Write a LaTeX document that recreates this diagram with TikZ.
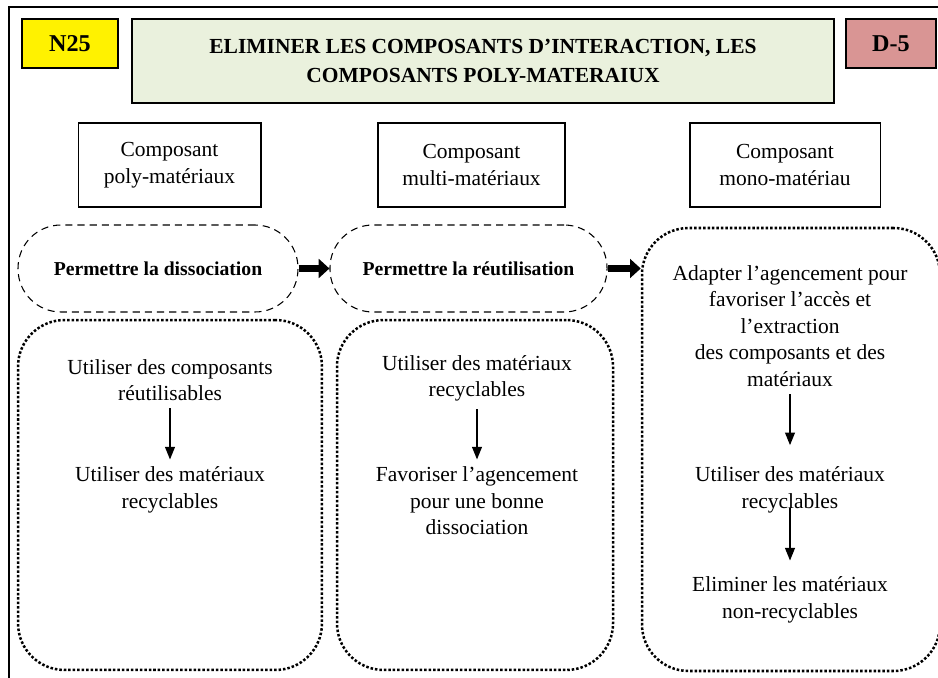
\documentclass[tikz,border=0pt]{standalone}
\usepackage{fontspec}
\setmainfont{Liberation Serif}
\usetikzlibrary{arrows.meta}
\definecolor{titlegreen}{HTML}{EAF1DD}
\definecolor{tagred}{HTML}{D99594}
\begin{document}
\begin{tikzpicture}[
    x=0.5587pt, y=-0.5587pt,
    txt/.style={align=center, inner sep=4pt, font=\fontsize{12}{14.8}\selectfont},
    tag/.style={draw, line width=0.8pt, minimum width=53.6pt, minimum height=27.4pt, font=\fontsize{13.5}{16}\selectfont\bfseries},
    comp/.style={draw, line width=0.6pt, minimum height=46.9pt, align=center, font=\fontsize{12}{14.8}\selectfont},
    pill/.style={draw, dash pattern=on 4pt off 2.8pt, line width=0.6pt, rounded corners=24pt, minimum height=48.6pt, font=\fontsize{11}{13}\selectfont\bfseries},
    zone/.style={draw, line width=1.4pt, dash pattern=on 1.4pt off 1.1pt, rounded corners=26pt},
    bigarrow/.style={-{Triangle[length=6pt,width=10.5pt]}, line width=4pt},
    arrow/.style={-{Triangle[length=7pt,width=5.5pt]}, line width=0.75pt}
]
    \useasboundingbox (0,0) rectangle (938,678);
    \clip (0,0) rectangle (938,678);
    % cadre
    \draw[line width=0.8pt] (9,7) rectangle (980,720);

    % en-tete
    \node[tag, fill=yellow] (n25) at (70,43.5) {N25};
    \node[draw, line width=0.8pt, fill=titlegreen, minimum width=392.2pt, minimum height=46.9pt, align=center, font=\fontsize{12}{16}\selectfont\bfseries] (titre) at (483,61) {ELIMINER LES COMPOSANTS D’INTERACTION, LES\\COMPOSANTS POLY-MATERAIUX};
    \node[tag, fill=tagred, minimum width=50.3pt] (d5) at (891,43.5) {D-5};

    \node[comp, minimum width=102.2pt] (poly) at (169.5,165) {Composant\\poly-matériaux};
    \node[comp, minimum width=104.5pt] (multi) at (471.5,165) {Composant\\multi-matériaux};
    \node[comp, minimum width=106.2pt] (mono) at (785,165) {Composant\\mono-matériau};

    \node[pill, minimum width=156.4pt] (dissoc) at (158,268.5) {Permettre la dissociation};
    \node[pill, minimum width=154.8pt] (reutil) at (468.5,268.5) {Permettre la réutilisation};

    % zones
    \node[zone, minimum width=169.8pt, minimum height=195.5pt] (zone1) at (170,495) {};
    \node[zone, minimum width=154.2pt, minimum height=195.5pt] (zone2) at (475,495) {};
    \node[zone, minimum width=166.5pt, minimum height=247.5pt] (zone3) at (791,449.5) {};

    \node[txt] (reutilisables) at (170,380) {Utiliser des composants\\réutilisables};
    \node[txt] (recyc1) at (170,490) {Utiliser des matériaux\\recyclables};
    \node[txt] (recyc2) at (477,378.5) {Utiliser des matériaux\\recyclables};
    \node[txt] (agencement) at (477,501) {Favoriser l’agencement\\pour une bonne\\dissociation};
    \node[txt] (adapter) at (790,326) {Adapter l’agencement pour\\favoriser l’accès et\\l’extraction\\des composants et des\\matériaux};
    \node[txt] (recyc3) at (790,490) {Utiliser des matériaux\\recyclables};
    \node[txt] (eliminer) at (790,600) {Eliminer les matériaux\\non-recyclables};

    \draw[bigarrow] (dissoc) -- (reutil);
    \draw[bigarrow] (reutil.east) -- (reutil.east -| zone3.west);

    \draw[arrow] (reutilisables) -- (recyc1);
    \draw[arrow] (recyc2) -- (agencement);
    \draw[arrow, shorten >=8pt] (adapter) -- (recyc3);
    \draw[arrow, shorten <=-7pt, shorten >=5pt] (recyc3) -- (eliminer);
\end{tikzpicture}
\end{document}
